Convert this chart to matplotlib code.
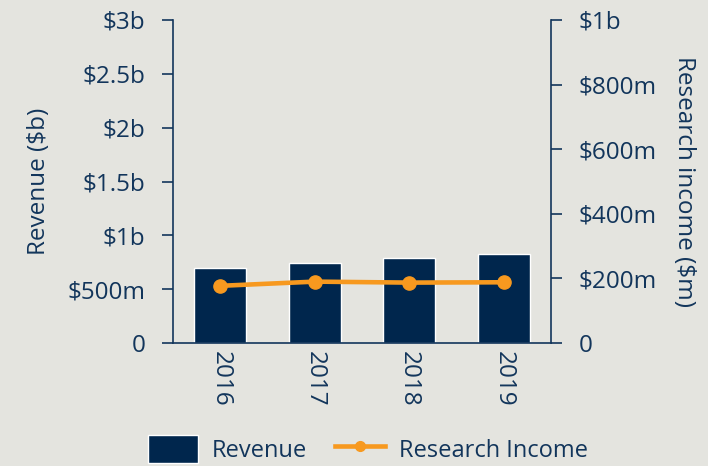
import matplotlib.pyplot as plt
from matplotlib.patches import Patch
from matplotlib.lines import Line2D
import numpy as np

years = ['2016', '2017', '2018', '2019']
revenue_b = [0.70, 0.74, 0.79, 0.83]
research_m = [177, 190, 187, 188]

bg = '#e4e4df'
navy = '#00264d'
text_c = '#12355b'
orange = '#f7991f'

plt.rcParams['font.family'] = ['Open Sans', 'DejaVu Sans']
fs = 17.5

fig = plt.figure(figsize=(7.08, 4.66), dpi=100, facecolor=bg)
ax = fig.add_axes([173 / 708, 1 - 343 / 466, 378 / 708, 323 / 466])
ax.set_facecolor(bg)
x = np.arange(len(years))
ax.bar(x, revenue_b, width=0.55, color=navy, edgecolor='white', linewidth=1)
ax.set_xlim(-0.5, 3.5)
ax.set_ylim(0, 3)
ax.set_yticks([0, 0.5, 1, 1.5, 2, 2.5, 3])
ax.set_yticklabels(['0', '$500m', '$1b', '$1.5b', '$2b', '$2.5b', '$3b'])
ax.set_xticks(x)
ax.set_xticklabels(years, rotation=270)
ax.set_ylabel('Revenue ($b)', color=text_c, fontsize=fs, labelpad=12)

ax2 = ax.twinx()
ax2.plot(x, research_m, color=orange, linewidth=3.3, marker='o', markersize=9.5)
ax2.set_ylim(0, 1000)
ax2.set_yticks([0, 200, 400, 600, 800, 1000])
ax2.set_yticklabels(['0', '$200m', '$400m', '$600m', '$800m', '$1b'])
ax2.set_ylabel('Research income ($m)', color=text_c, fontsize=fs,
               rotation=270, labelpad=28)

for a in (ax, ax2):
    a.spines['top'].set_visible(False)
    for s in a.spines.values():
        s.set_color(text_c)
        s.set_linewidth(1.2)
    a.tick_params(colors=text_c, labelcolor=text_c, width=1.2, length=8,
                  pad=12, labelsize=fs)
ax.spines['right'].set_visible(False)
ax2.spines['left'].set_visible(False)
ax2.spines['bottom'].set_visible(False)
ax.tick_params(axis='x', length=0, pad=6)

handles = [Patch(facecolor=navy, edgecolor='white'),
           Line2D([], [], color=orange, linewidth=3.3, marker='o', markersize=7)]
fig.legend(handles, ['Revenue', 'Research Income'], loc='lower center',
           bbox_to_anchor=(0.52, -0.04), ncol=2, frameon=False,
           fontsize=17, labelcolor=text_c, handlelength=2.1, handleheight=1.5,
           handletextpad=0.6, columnspacing=1.2)

fig.savefig('out.png', dpi=100, facecolor=bg)
